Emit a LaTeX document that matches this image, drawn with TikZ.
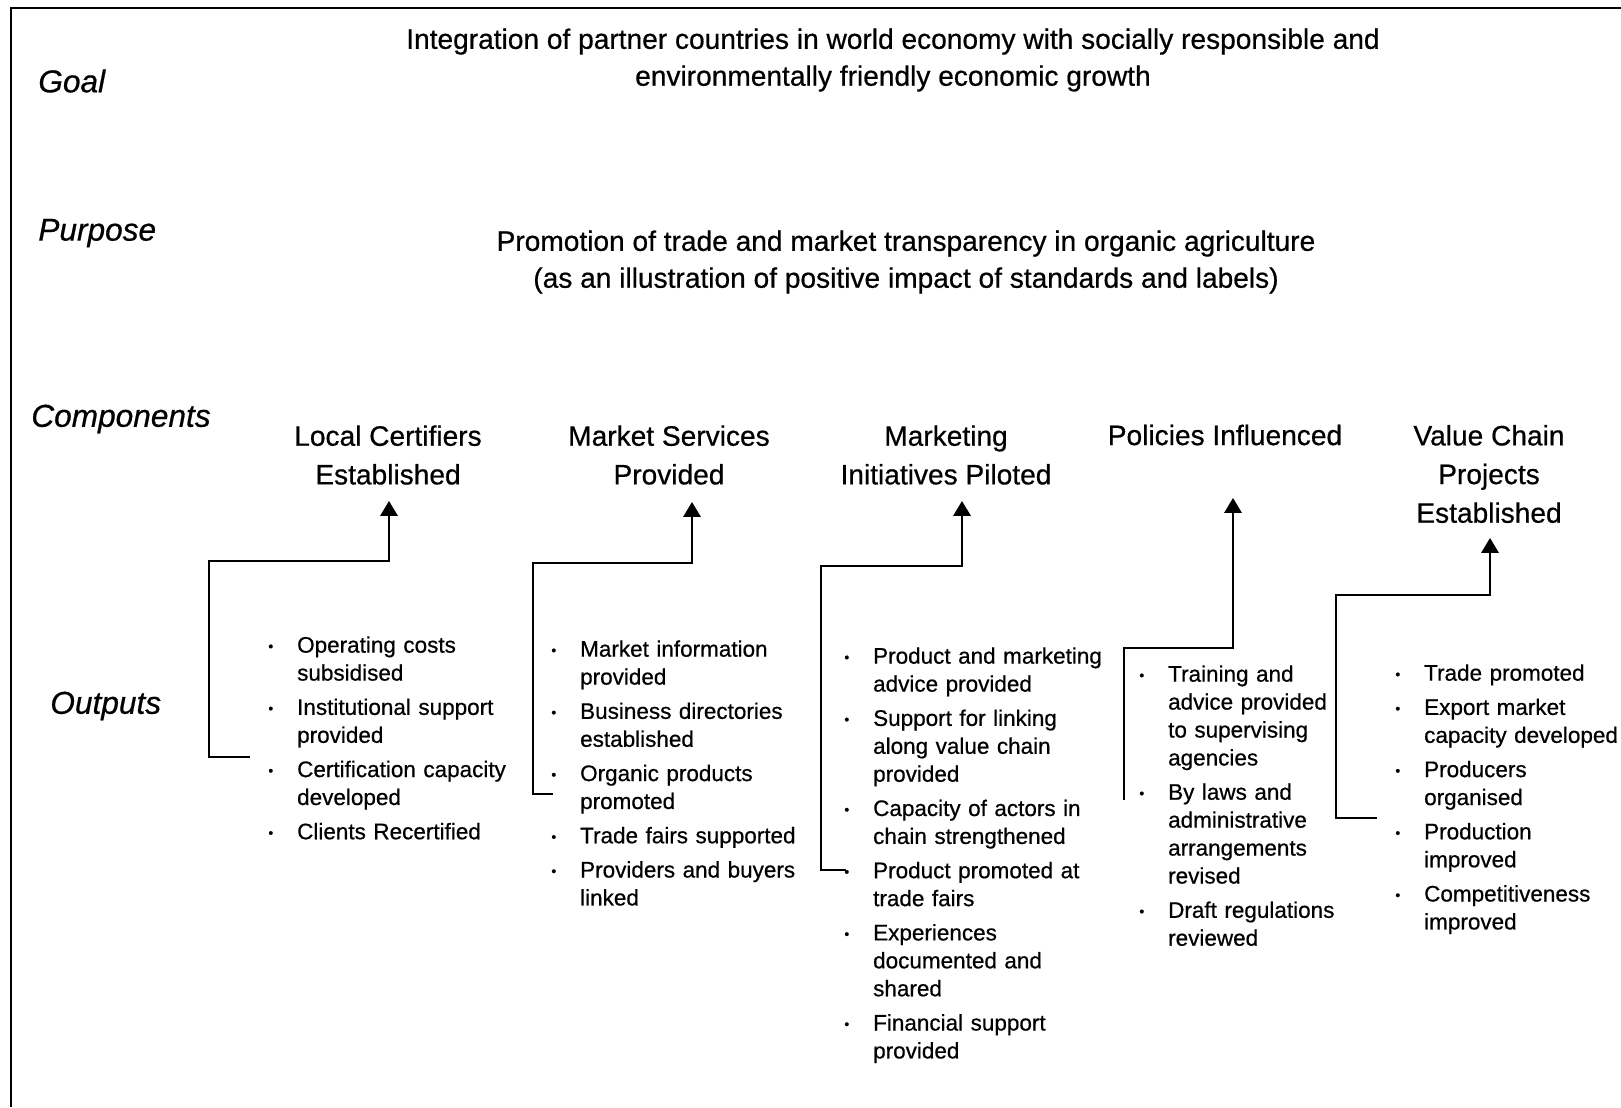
\documentclass[tikz,border=0pt]{standalone}
\usepackage{fontspec}
\setmainfont[FakeBold=0.6]{Liberation Sans}
\usetikzlibrary{arrows.meta}

% one bullet point of an output list
\newlength{\bulletgap}
\setlength{\bulletgap}{16.4pt}
\newcommand{\outitem}[1]{\noindent\hangindent=\bulletgap\makebox[\bulletgap][l]{\raisebox{0.9pt}{\fontsize{8}{8}\selectfont\textbullet}}#1\par}

\begin{document}
\begin{tikzpicture}[x=0.02cm,y=-0.02cm,
		level/.style={font=\fontsize{18}{22}\selectfont\itshape, anchor=west, inner sep=0pt},
		aim/.style={font=\fontsize{16}{21}\selectfont, align=center, inner sep=0pt},
		comp/.style={font=\fontsize{16}{22}\selectfont, align=center, inner sep=0pt},
		outlist/.style={font={\fontsize{12.8}{15.9}\selectfont\setlength{\parskip}{3.6pt}\hyphenpenalty=10000},
			text width=7cm, anchor=north west, inner sep=0pt},
		flow/.style={line width=0.8pt, -{Triangle[width=10pt,length=8.5pt]}}]
		\useasboundingbox (0,0) rectangle (1621,1107);
		\draw[line width=1.2pt] (11,1107) -- (11,8) -- (1621,8);

		% levels
		\node[level] (goal) at (38,81) {Goal};
		\node[level] (purpose) at (38,233) {Purpose};
		\node[level] (components) at (31,419) {Components};
		\node[level] (outputs) at (50,706) {Outputs};

		\node[aim] (goaltext) at (893,60) {Integration of partner countries in world economy with socially responsible and\\environmentally friendly economic growth};
		\node[aim] (purposetext) at (906,262) {Promotion of trade and market transparency in organic agriculture\\(as an illustration of positive impact of standards and labels)};

		% components
		\node[comp] (c1) at (388,455) {Local Certifiers\\Established};
		\node[comp] (c2) at (669,455) {Market Services\\Provided};
		\node[comp] (c3) at (946,455) {Marketing\\Initiatives Piloted};
		\node[comp] (c4) at (1225,435) {Policies Influenced};
		\node[comp] (c5) at (1489,474) {Value Chain\\Projects\\Established};

		% outputs
		\node[outlist] (l1) at (268,636) {%
			\outitem{Operating costs\newline subsidised}
			\outitem{Institutional support\newline provided}
			\outitem{Certification capacity\newline developed}
			\outitem{Clients Recertified}};
		\node[outlist] (l2) at (551,640) {%
			\outitem{Market information\newline provided}
			\outitem{Business directories\newline established}
			\outitem{Organic products\newline promoted}
			\outitem{Trade fairs supported}
			\outitem{Providers and buyers\newline linked}};
		\node[outlist] (l3) at (844,647) {%
			\outitem{Product and marketing\newline advice provided}
			\outitem{Support for linking\newline along value chain\newline provided}
			\outitem{Capacity of actors in\newline chain strengthened}
			\outitem{Product promoted at\newline trade fairs}
			\outitem{Experiences\newline documented and\newline shared}
			\outitem{Financial support\newline provided}};
		\node[outlist] (l4) at (1139,665) {%
			\outitem{Training and\newline advice provided\newline to supervising\newline agencies}
			\outitem{By laws and\newline administrative\newline arrangements\newline revised}
			\outitem{Draft regulations\newline reviewed}};
		\node[outlist] (l5) at (1395,664) {%
			\outitem{Trade promoted}
			\outitem{Export market\newline capacity developed}
			\outitem{Producers\newline organised}
			\outitem{Production\newline improved}
			\outitem{Competitiveness\newline improved}};

		% elbow connectors from outputs up to components
		\coordinate (b1) at (250,757);  \coordinate (k1) at (209,561);  \coordinate (t1) at (389,501);
		\coordinate (b2) at (553,794);  \coordinate (k2) at (533,563);  \coordinate (t2) at (692,502);
		\coordinate (b3) at (846,870);  \coordinate (k3) at (821,566);  \coordinate (t3) at (962,501);
		\coordinate (b4) at (1124,800); \coordinate (k4) at (1124,648); \coordinate (t4) at (1233,498);
		\coordinate (b5) at (1377,818); \coordinate (k5) at (1336,595); \coordinate (t5) at (1490,538);
		\foreach \i in {1,...,5}
			\draw[flow] (b\i) -| (k\i) -| (t\i);
\end{tikzpicture}
\end{document}
